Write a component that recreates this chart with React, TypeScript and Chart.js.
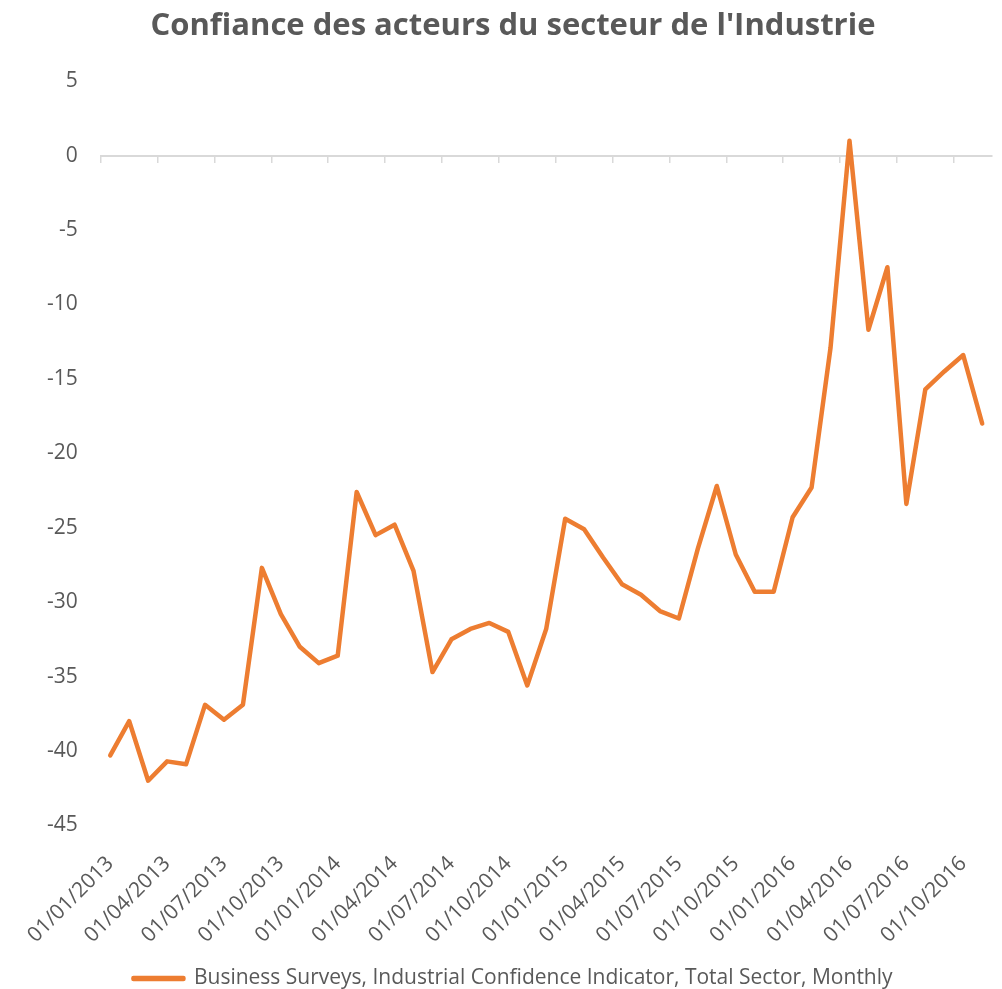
import React, { useEffect, useRef } from "react";
import { Chart, registerables } from "chart.js";

Chart.register(...registerables);

const TITLE = "Confiance des acteurs du secteur de l'Industrie";
const SERIES_NAME = "Business Surveys, Industrial Confidence Indicator, Total Sector, Monthly";

const MONTHS: string[] = [
  "01/01/2013", "01/02/2013", "01/03/2013", "01/04/2013", "01/05/2013", "01/06/2013",
  "01/07/2013", "01/08/2013", "01/09/2013", "01/10/2013", "01/11/2013", "01/12/2013",
  "01/01/2014", "01/02/2014", "01/03/2014", "01/04/2014", "01/05/2014", "01/06/2014",
  "01/07/2014", "01/08/2014", "01/09/2014", "01/10/2014", "01/11/2014", "01/12/2014",
  "01/01/2015", "01/02/2015", "01/03/2015", "01/04/2015", "01/05/2015", "01/06/2015",
  "01/07/2015", "01/08/2015", "01/09/2015", "01/10/2015", "01/11/2015", "01/12/2015",
  "01/01/2016", "01/02/2016", "01/03/2016", "01/04/2016", "01/05/2016", "01/06/2016",
  "01/07/2016", "01/08/2016", "01/09/2016", "01/10/2016", "01/11/2016",
];

const VALUES: number[] = [
  -40.3, -38.0, -42.0, -40.7, -40.9, -36.9, -37.9, -36.9, -27.7, -30.8, -33.0, -34.1,
  -33.6, -22.6, -25.5, -24.8, -27.9, -34.7, -32.5, -31.8, -31.4, -32.0, -35.6, -31.8,
  -24.4, -25.1, -27.0, -28.8, -29.5, -30.6, -31.1, -26.4, -22.2, -26.8, -29.3, -29.3,
  -24.3, -22.3, -12.9, 1.0, -11.7, -7.5, -23.4, -15.7, -14.5, -13.4, -18.0,
];

const Y_MIN = -45;
const Y_MAX = 5;
const Y_STEP = 5;
const LABEL_EVERY = 3;

const ORANGE = "#ED7D31";
const TEXT = "#595959";
const AXIS = "#D9D9D9";

export default function App() {
  const ref = useRef<HTMLCanvasElement | null>(null);

  useEffect(() => {
    document.body.style.margin = "0";
    Chart.defaults.font.family = "'Open Sans', sans-serif";
    const chart = new Chart(ref.current as HTMLCanvasElement, {
      type: "line",
      data: {
        labels: MONTHS,
        datasets: [
          {
            label: SERIES_NAME,
            data: VALUES,
            borderColor: ORANGE,
            backgroundColor: ORANGE,
            borderWidth: 4.5,
            borderCapStyle: "round",
            borderJoinStyle: "round",
            pointRadius: 0,
            tension: 0,
            xAxisID: "x",
            yAxisID: "y",
          },
        ],
      },
      options: {
        responsive: false,
        animation: false,
        layout: { padding: { left: 24, right: 0, top: 0, bottom: -10 } },
        plugins: {
          title: {
            display: true,
            text: TITLE,
            color: TEXT,
            font: { size: 31, weight: "bold" },
            padding: { top: 8, bottom: 36 },
          },
          legend: {
            position: "bottom",
            labels: {
              color: TEXT,
              font: { size: 21 },
              boxWidth: 50,
              boxHeight: 1,
              padding: 1,
            },
          },
          tooltip: { enabled: false },
        },
        scales: {
          x: {
            type: "category",
            offset: true,
            grid: { display: false, drawTicks: true, tickLength: 24 },
            border: { display: false },
            afterFit: (scale: any) => {
              scale.height += 17;
            },
            ticks: {
              autoSkip: false,
              maxRotation: 45,
              minRotation: 45,
              color: TEXT,
              font: { size: 21 },
              padding: 2,
              callback: (_v: any, i: number) => (i % LABEL_EVERY === 0 ? MONTHS[i] : ""),
            },
          },
          x2: {
            type: "category",
            labels: MONTHS,
            offset: true,
            position: { y: 0 },
            grid: {
              offset: true,
              drawOnChartArea: false,
              drawTicks: true,
              tickLength: 6,
              lineWidth: 1.5,
              color: (ctx: any) => (ctx.index % LABEL_EVERY === 0 ? AXIS : "rgba(0,0,0,0)"),
            },
            border: { display: true, color: AXIS, width: 2 },
            ticks: { display: false },
          },
          y: {
            min: Y_MIN,
            max: Y_MAX,
            grid: { display: false, drawTicks: false },
            border: { display: false },
            ticks: {
              stepSize: Y_STEP,
              color: TEXT,
              font: { size: 21 },
              padding: 23,
            },
          },
        },
      },
    });
    return () => chart.destroy();
  }, []);

  return (
    <div style={{ position: "relative", width: 1002, height: 989 }}>
      <canvas ref={ref} width={1002} height={989} />
    </div>
  );
}
